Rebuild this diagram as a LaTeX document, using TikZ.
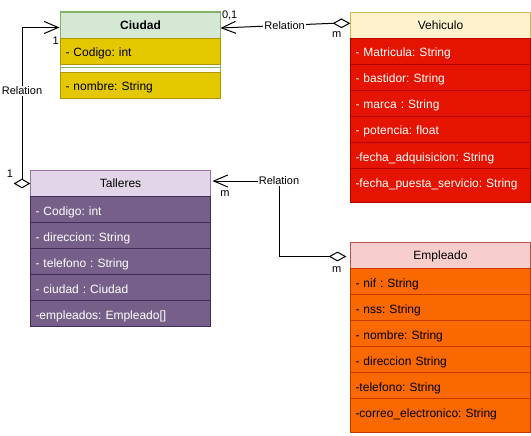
\documentclass[tikz,border=0pt]{standalone}
\usepackage{fontspec}
\setmainfont{Liberation Sans}
\usetikzlibrary{arrows.meta,shapes.geometric}
\frenchspacing
\definecolor{ciuhead}{HTML}{D5E8D4}
\definecolor{ciuline}{HTML}{82B366}
\definecolor{ciurow}{HTML}{E3C800}
\definecolor{ciurowline}{HTML}{B09500}
\definecolor{vehhead}{HTML}{FFF2CC}
\definecolor{vehline}{HTML}{D6B656}
\definecolor{vehrow}{HTML}{E51400}
\definecolor{vehrowline}{HTML}{B20000}
\definecolor{talhead}{HTML}{E1D5E7}
\definecolor{talline}{HTML}{9673A6}
\definecolor{talrow}{HTML}{76608A}
\definecolor{talrowline}{HTML}{432D57}
\definecolor{emphead}{HTML}{F8CECC}
\definecolor{empline}{HTML}{B85450}
\definecolor{emprow}{HTML}{FA6800}
\definecolor{emprowline}{HTML}{C73500}

\begin{document}
\begin{tikzpicture}[x=1pt,y=-1pt,line width=1pt,
  head/.style={draw,anchor=north west,minimum height=26pt,inner sep=0pt,
    font=\fontsize{12}{14}\selectfont,text height=9.5pt,text depth=1pt},
  field/.style={draw,anchor=north west,minimum height=26pt,inner xsep=5pt,inner ysep=0pt,
    align=left,font=\fontsize{12}{14}\selectfont,text height=12pt,text depth=1pt},
  lastfield/.style={field,minimum height=34pt,text depth=9pt},
  aggr/.style={diamond,draw,fill=white,minimum width=16pt,minimum height=9pt,inner sep=0pt},
  rel/.style={draw,line width=1pt},
  openarrow/.style={-{Straight Barb[length=14pt,width=12pt]}},
  lab/.style={font=\fontsize{11}{13}\selectfont,fill=white,inner sep=1pt},
  mult/.style={font=\fontsize{11}{13}\selectfont,inner sep=0pt}]
       \useasboundingbox (0,0) rectangle (531,436);
       \draw[ciuline,fill=white](60,12)rectangle(220,98);
       \node[head,fill=ciuhead,draw=ciuline,minimum width=160pt](ciu)at(60,12){\textbf{Ciudad}};
       \node[field,fill=ciurow,draw=ciurowline,text width=150pt](ciu1)at(60,38){- Codigo: int};
       \draw[ciuline](60,68)--(220,68);
       \node[field,fill=ciurow,draw=ciurowline,text width=150pt](ciu2)at(60,72){- nombre: String};
       \node[head,fill=vehhead,draw=vehline,minimum width=180pt](veh)at(350,12){Vehiculo};
       \foreach \t [count=\i] in {- Matricula: String,- bastidor: String,- marca : String,- potencia: float,-fecha\_adquisicion: String}
         \node[field,fill=vehrow,draw=vehrowline,text=white,text width=170pt](veh\i)at(350,12+26*\i){\t};
       \node[lastfield,fill=vehrow,draw=vehrowline,text=white,text width=170pt](veh6)at(350,168){-fecha\_puesta\_servicio: String};
       \node[head,fill=talhead,draw=talline,minimum width=180pt](tal)at(30,170){Talleres};
       \foreach \t [count=\i] in {- Codigo: int,- direccion: String,- telefono : String,- ciudad : Ciudad,-empleados: Empleado[]}
         \node[field,fill=talrow,draw=talrowline,text=white,text width=170pt](tal\i)at(30,170+26*\i){\t};
       \node[head,fill=emphead,draw=empline,minimum width=180pt](emp)at(350,242){Empleado};
       \foreach \t [count=\i] in {- nif : String,- nss: String,- nombre: String,- direccion String,-telefono: String}
         \node[field,fill=emprow,draw=emprowline,text width=170pt](emp\i)at(350,242+26*\i){\t};
       \node[lastfield,fill=emprow,draw=emprowline,text width=170pt](emp6)at(350,398){-correo\_electronico: String};
       \coordinate(ciuR)at(220.5,28);
       \coordinate(ciuL)at(59.5,27.5);
       \coordinate(talR)at(212.5,181);
       \node[aggr,anchor=east](vdia)at(350,23.3){};
       \node[aggr,anchor=east,minimum width=15pt](tdia)at(30,183.5){};
       \node[aggr,anchor=east](edia)at(346,256.5){};
       \draw[rel,openarrow](vdia.west)--node[lab,pos=0.43]{Relation}(ciuR);
       \draw[rel,openarrow](tdia.north)|-node[lab,pos=0.29]{Relation}(ciuL);
       \draw[rel,openarrow](edia.west)--++(-50,0)|-node[lab,pos=0.5]{Relation}(talR);
       \node[mult](m1)at(229.7,15){0,1};
       \node[mult](m2)at(336.7,35){m};
       \node[mult](m3)at(55.6,41){1};
       \node[mult](m4)at(10,173.3){1};
       \node[mult](m5)at(225,193.3){m};
       \node[mult](m6)at(336.7,269.3){m};
      \end{tikzpicture}
\end{document}
